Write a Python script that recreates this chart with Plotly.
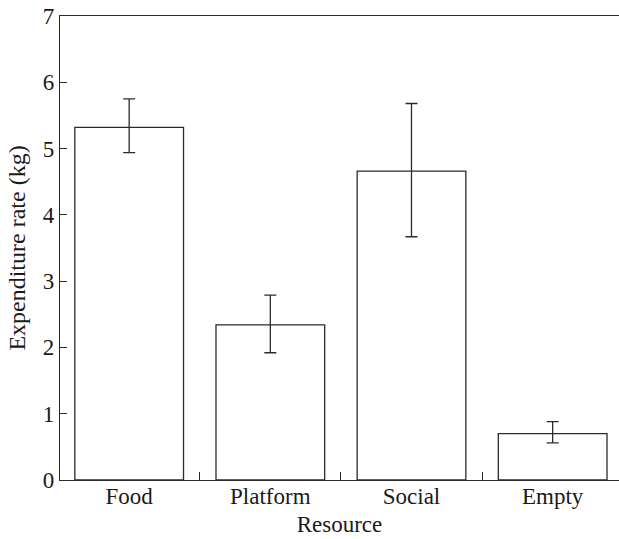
import plotly.graph_objects as go

resources = ["Food", "Platform", "Social", "Empty"]
rate = [5.32, 2.34, 4.66, 0.70]
err_upper = [5.75, 2.79, 5.68, 0.88]
err_lower = [4.94, 1.92, 3.67, 0.56]

plus = [u - m for u, m in zip(err_upper, rate)]
minus = [m - l for m, l in zip(rate, err_lower)]

font_family = "Liberation Serif, Times New Roman, serif"
ink = "#2b2b2b"
fs = 23

fig = go.Figure(
    go.Bar(
        x=resources,
        y=rate,
        width=0.77,
        marker=dict(color="white", line=dict(color=ink, width=1.3)),
        error_y=dict(
            type="data",
            symmetric=False,
            array=plus,
            arrayminus=minus,
            color=ink,
            thickness=1.3,
            width=6,
        ),
    )
)

fig.update_layout(
    width=619,
    height=539,
    margin=dict(l=60, r=0, t=16, b=59, autoexpand=False),
    plot_bgcolor="white",
    paper_bgcolor="white",
    showlegend=False,
    font=dict(family=font_family, size=fs, color="#1a1a1a"),
)

fig.update_xaxes(
    range=[-0.49, 3.47],
    showline=True,
    linecolor=ink,
    linewidth=1.3,
    mirror=True,
    ticks="inside",
    tickson="boundaries",
    ticklen=8,
    tickcolor=ink,
    tickwidth=1.2,
    showgrid=False,
    tickfont=dict(size=fs),
    ticklabelstandoff=-5,
    title=dict(text="Resource", font=dict(size=fs), standoff=8),
)

fig.update_yaxes(
    range=[0, 7],
    dtick=1,
    showline=True,
    linecolor=ink,
    linewidth=1.3,
    ticks="inside",
    ticklen=7,
    tickcolor=ink,
    tickwidth=1.2,
    showgrid=False,
    zeroline=False,
    tickfont=dict(size=fs),
    title=dict(text="Expenditure rate (kg)", font=dict(size=fs + 1), standoff=10),
)

fig.write_html("out.html")
